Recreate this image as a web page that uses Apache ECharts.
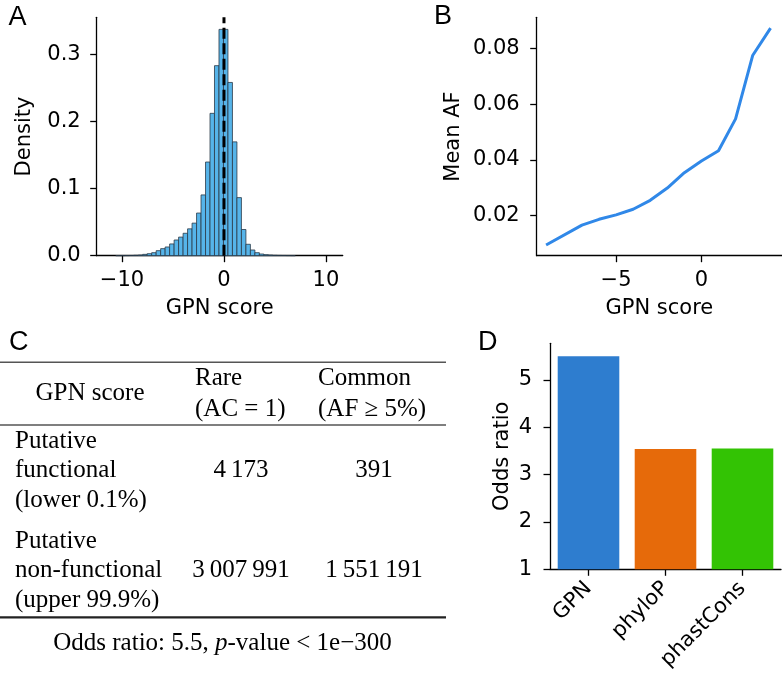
<!DOCTYPE html>
<html>
<head>
<meta charset="utf-8">
<script src="https://cdn.jsdelivr.net/npm/echarts@6/dist/echarts.min.js"></script>
<style>
html,body{margin:0;padding:0;background:#fff;}
#chart{width:782px;height:680px;}
</style>
</head>
<body>
<div id="chart"></div>
<script>
// ---------- Panel A: histogram of GPN score ----------
const histBinStart = -11.49;
const histBinWidth = 0.44;
const histDensity = [
  0, 0, 0.0001, 0.0001, 0.0002, 0.0003, 0.0006, 0.001, 0.002, 0.003,
  0.0045, 0.0075, 0.0105, 0.013, 0.0175, 0.0234, 0.0277, 0.0334, 0.040, 0.0485,
  0.0635, 0.0905, 0.1395, 0.212, 0.283, 0.337, 0.337, 0.258, 0.1695, 0.0865,
  0.039, 0.017, 0.0085, 0.0045, 0.0025, 0.0015, 0.001, 0.0006, 0.0004, 0.0003,
  0.0002, 0.0001, 0, 0, 0, 0, 0, 0, 0, 0
];
const histXTicks = [-10, 0, 10];
const histYTicks = [0, 0.1, 0.2, 0.3];

// ---------- Panel B: mean AF vs GPN score ----------
const afScore = [-9.1, -7, -6, -5, -4, -3, -2, -1, 0, 1, 2, 3, 4.05];
const afMean = [0.0095, 0.0166, 0.0187, 0.0203, 0.0223, 0.0255, 0.0299, 0.0354, 0.0396, 0.0433, 0.0547, 0.0774, 0.0872];
const afXTicks = [-5, 0];
const afYTicks = [0.02, 0.04, 0.06, 0.08];

// ---------- Panel C: table ----------
const tableHeaders = ['GPN score', 'Rare', '(AC = 1)', 'Common', '(AF ≥ 5%)'];
const rowLabels = [
  ['Putative', 'functional', '(lower 0.1%)'],
  ['Putative', 'non-functional', '(upper 99.9%)']
];
const rareCounts = ['4\u2009173', '3\u2009007\u2009991'];
const commonCounts = ['391', '1\u2009551\u2009191'];
const footnote = { pre: 'Odds ratio: 5.5, ', ital: 'p', post: '-value < 1e\u2212300' };

// ---------- Panel D: odds ratio ----------
const methods = ['GPN', 'phyloP', 'phastCons'];
const oddsRatios = [5.5, 3.54, 3.55];
const methodColors = ['#2E7DCF', '#E66A0A', '#33C304'];
const oddsYTicks = [1, 2, 3, 4, 5];

const FONT = 'DejaVu Sans';
const FS = 21;
const minus = v => String(v).replace('-', '\u2212');

const histData = histDensity.map((d, i) => [histBinStart + i * histBinWidth, histBinStart + (i + 1) * histBinWidth, d]);

const axisLineStyle = { color: '#000', width: 1.3 };
const tickStyle = { show: true, length: 6.5, lineStyle: { color: '#000', width: 1.3 } };
const labelBase = { color: '#000', fontFamily: FONT, fontSize: FS };
const nameStyle = { color: '#000', fontFamily: FONT, fontSize: FS };
const axLine = { show: true, onZero: false, lineStyle: axisLineStyle };

const chart = echarts.init(document.getElementById('chart'), null, { renderer: 'canvas' });

const txt = (text, x, y, align, opts) => Object.assign({
  type: 'text', x: x, y: y, silent: true,
  style: Object.assign({ text: text, fill: '#000', font: '25px "Liberation Serif"', textAlign: align || 'left', textVerticalAlign: 'middle' }, opts || {})
});
const hline = (x1, x2, y, w, c) => ({ type: 'line', silent: true, shape: { x1: x1, y1: y, x2: x2, y2: y }, style: { stroke: c, lineWidth: w } });

const tableGraphics = [
  hline(0, 446, 362.3, 1.4, '#555'),
  hline(0, 446, 425, 1.4, '#555'),
  hline(0, 446, 617.3, 2.2, '#222'),
  txt(tableHeaders[0], 90, 393, 'center'),
  txt(tableHeaders[1], 195, 378, 'left'),
  txt(tableHeaders[2], 195, 409, 'left'),
  txt(tableHeaders[3], 318, 378, 'left'),
  txt(tableHeaders[4], 318, 409, 'left'),
  txt(rowLabels[0][0], 15, 441, 'left'),
  txt(rowLabels[0][1], 15, 470, 'left'),
  txt(rowLabels[0][2], 15, 500, 'left'),
  txt(rareCounts[0], 241, 470, 'center'),
  txt(commonCounts[0], 374, 470, 'center'),
  txt(rowLabels[1][0], 15, 541, 'left'),
  txt(rowLabels[1][1], 15, 570.5, 'left'),
  txt(rowLabels[1][2], 15, 600, 'left'),
  txt(rareCounts[1], 241, 570.5, 'center'),
  txt(commonCounts[1], 374, 570.5, 'center'),
  {
    type: 'text', x: 222.5, y: 643, silent: true,
    style: {
      text: '{n|' + footnote.pre + '}{i|' + footnote.ital + '}{n|' + footnote.post + '}',
      textAlign: 'center', textVerticalAlign: 'middle',
      rich: {
        n: { fontFamily: 'Liberation Serif', fontSize: 25, fill: '#000' },
        i: { fontFamily: 'Liberation Serif', fontSize: 25, fontStyle: 'italic', fill: '#000' }
      }
    }
  }
];

const letter = (t, x, y) => ({ type: 'text', x: x, y: y, silent: true, style: { text: t, fill: '#000', font: '27px "Liberation Sans"', textAlign: 'center', textVerticalAlign: 'middle' } });

const option = {
  animation: false,
  backgroundColor: '#fff',
  textStyle: { fontFamily: FONT },
  grid: [
    { left: 96.7, top: 17.3, width: 246, height: 238.4 },
    { left: 536.7, top: 17.3, width: 245.3, height: 238.4 },
    { left: 550, top: 343.3, width: 231, height: 226 }
  ],
  xAxis: [
    {
      gridIndex: 0, type: 'value', min: -12.48, max: 11.64,
      name: 'GPN score', nameLocation: 'middle', nameGap: 42, nameTextStyle: nameStyle,
      axisLine: axLine,
      axisTick: Object.assign({ customValues: histXTicks }, tickStyle),
      axisLabel: Object.assign({ customValues: histXTicks, margin: 14, formatter: v => minus(v) }, labelBase),
      splitLine: { show: false }
    },
    {
      gridIndex: 1, type: 'value', min: -9.65, max: 4.72,
      name: 'GPN score', nameLocation: 'middle', nameGap: 42, nameTextStyle: nameStyle,
      axisLine: axLine,
      axisTick: Object.assign({ customValues: afXTicks }, tickStyle),
      axisLabel: Object.assign({ customValues: afXTicks, margin: 14, formatter: v => minus(v) }, labelBase),
      splitLine: { show: false }
    },
    {
      gridIndex: 2, type: 'category', data: methods,
      axisLine: axLine,
      axisTick: Object.assign({ alignWithLabel: true }, tickStyle),
      axisLabel: Object.assign({ rotate: 45, margin: 16, interval: 0 }, labelBase),
      splitLine: { show: false }
    }
  ],
  yAxis: [
    {
      gridIndex: 0, type: 'value', min: 0, max: 0.355,
      name: 'Density', nameLocation: 'middle', nameGap: 62, nameTextStyle: nameStyle,
      axisLine: axLine,
      axisTick: Object.assign({ customValues: histYTicks }, tickStyle),
      axisLabel: Object.assign({ customValues: histYTicks, margin: 16, formatter: v => v.toFixed(1) }, labelBase),
      splitLine: { show: false }
    },
    {
      gridIndex: 1, type: 'value', min: 0.00566, max: 0.0911,
      name: 'Mean AF', nameLocation: 'middle', nameGap: 73, nameTextStyle: nameStyle,
      axisLine: axLine,
      axisTick: Object.assign({ customValues: afYTicks }, tickStyle),
      axisLabel: Object.assign({ customValues: afYTicks, margin: 17, formatter: v => v.toFixed(2) }, labelBase),
      splitLine: { show: false }
    },
    {
      gridIndex: 2, type: 'value', min: 1, max: 5.775,
      name: 'Odds ratio', nameLocation: 'middle', nameGap: 37, nameTextStyle: nameStyle,
      axisLine: axLine,
      axisTick: Object.assign({ customValues: oddsYTicks }, tickStyle),
      axisLabel: Object.assign({ customValues: oddsYTicks, margin: 18 }, labelBase),
      splitLine: { show: false }
    }
  ],
  series: [
    {
      type: 'custom', xAxisIndex: 0, yAxisIndex: 0,
      data: histData,
      encode: { x: [0, 1], y: 2 },
      renderItem: function (params, api) {
        const h = api.value(2);
        if (!(h > 0)) return null;
        const p0 = api.coord([api.value(0), h]);
        const p1 = api.coord([api.value(1), 0]);
        return {
          type: 'rect',
          shape: { x: p0[0], y: p0[1], width: p1[0] - p0[0], height: p1[1] - p0[1] },
          style: { fill: '#56B4E9', stroke: '#2b3a48', lineWidth: 0.8 }
        };
      }
    },
    {
      type: 'line', xAxisIndex: 0, yAxisIndex: 0, symbol: 'none',
      data: [[0, 0], [0, 0.355]],
      lineStyle: { color: '#000', width: 3, type: [11, 4.5] }
    },
    {
      type: 'line', xAxisIndex: 1, yAxisIndex: 1, symbol: 'none',
      data: afScore.map((x, i) => [x, afMean[i]]),
      lineStyle: { color: '#3088E8', width: 3 }
    },
    {
      type: 'bar', xAxisIndex: 2, yAxisIndex: 2, barWidth: '80%',
      data: oddsRatios.map((v, i) => ({ value: v, itemStyle: { color: methodColors[i] } }))
    }
  ],
  graphic: [
    letter('A', 17.5, 17.5),
    letter('B', 443, 16.7),
    letter('C', 18.8, 342.8),
    letter('D', 487.8, 342.5)
  ].concat(tableGraphics)
};
chart.setOption(option);
</script>
</body>
</html>
